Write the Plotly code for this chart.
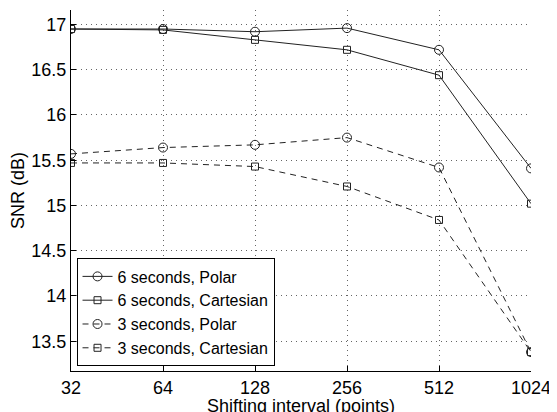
import plotly.graph_objects as go

intervals = [32, 64, 128, 256, 512, 1024]
polar_6s = [16.95, 16.95, 16.92, 16.96, 16.72, 15.41]
cart_6s = [16.95, 16.94, 16.83, 16.72, 16.44, 15.02]
polar_3s = [15.57, 15.64, 15.67, 15.75, 15.42, 13.38]
cart_3s = [15.47, 15.47, 15.43, 15.21, 14.84, 13.38]
names = ["6 seconds, Polar", "6 seconds, Cartesian", "3 seconds, Polar", "3 seconds, Cartesian"]
y_ticks = [13.5, 14, 14.5, 15, 15.5, 16, 16.5, 17]
y_ticktext = ["13.5", "14", "14.5", "15", "15.5", "16", "16.5", "17"]
x_title = "Shifting interval (points)"
y_title = "SNR (dB)"

FONT = "Liberation Sans, Arial, Helvetica, sans-serif"
series = [
    (polar_6s, names[0], "solid", "circle-open", 9),
    (cart_6s, names[1], "solid", "square-open", 7),
    (polar_3s, names[2], "6px,5px", "circle-open", 9),
    (cart_3s, names[3], "6px,5px", "square-open", 7),
]

fig = go.Figure()
for vals, name, dash, sym, size in series:
    fig.add_trace(go.Scatter(
        x=intervals, y=vals, name=name, mode="lines+markers",
        line=dict(color="#222222", width=1, dash=dash),
        marker=dict(symbol=sym, size=size, color="#222222", line=dict(width=1, color="#222222")),
    ))

# the page body has an 8px margin, so the figure is 8px smaller and offset
fig.update_layout(
    template="none",
    width=549, height=404,
    margin=dict(l=63, r=26, t=2, b=41, pad=0),
    paper_bgcolor="white", plot_bgcolor="white",
    font=dict(family=FONT, size=18, color="black"),
    showlegend=True,
    legend=dict(
        x=0.012, y=0.0125, xanchor="left", yanchor="bottom",
        bgcolor="white", bordercolor="black", borderwidth=1,
        font=dict(family=FONT, size=16, color="black"),
        tracegroupgap=0, itemwidth=30,
    ),
    xaxis=dict(
        type="log", range=[1.50515, 3.0103], automargin=False,
        tickvals=intervals, ticktext=[str(v) for v in intervals],
        ticks="inside", ticklen=5, tickcolor="black", tickwidth=1,
        showline=True, linecolor="black", linewidth=1,
        showgrid=True, gridcolor="#666666", griddash="1px,4px", gridwidth=1,
        zeroline=False, mirror=False,
        tickfont=dict(size=18),
    ),
    yaxis=dict(
        range=[13.171, 17.16], automargin=False,
        tickvals=y_ticks, ticktext=y_ticktext,
        ticks="inside", ticklen=5, tickcolor="black", tickwidth=1,
        showline=True, linecolor="black", linewidth=1,
        showgrid=True, gridcolor="#666666", griddash="1px,4px", gridwidth=1,
        zeroline=False, mirror=False,
        title=dict(text=y_title, standoff=4, font=dict(size=18)),
        tickfont=dict(size=18),
    ),
    annotations=[dict(
        text=x_title, xref="paper", yref="paper", x=0.5, y=0,
        xanchor="center", yanchor="middle", yshift=-35, showarrow=False,
        font=dict(family=FONT, size=18, color="black"),
    )],
)

fig.write_html("out.html")
